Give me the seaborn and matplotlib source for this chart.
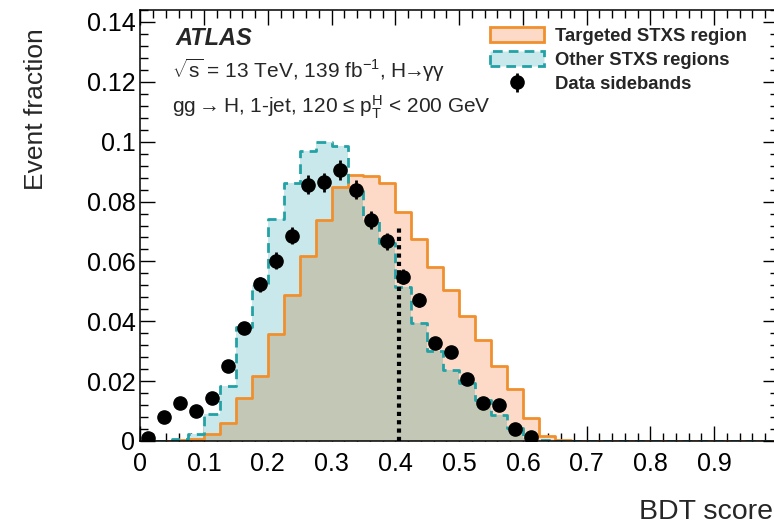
import numpy as np
import pandas as pd
import matplotlib
matplotlib.use("Agg")
import matplotlib.pyplot as plt
import seaborn as sns
from matplotlib.patches import Patch
from matplotlib.ticker import MultipleLocator, FuncFormatter

# BDT score histograms: 40 bins from 0 to 1
bin_width = 0.025
bin_centers = np.arange(40) * bin_width + bin_width / 2

# event fractions
targeted = [0.0, 0.0001, 0.0003, 0.0007, 0.0025, 0.0059, 0.0144, 0.0216, 0.0358, 0.0488,
            0.0617, 0.0739, 0.0848, 0.0890, 0.0884, 0.0862, 0.0764, 0.0675, 0.0583, 0.0504,
            0.0416, 0.0338, 0.0249, 0.0173, 0.0076, 0.0017, 0.0002, 0.0, 0.0, 0.0,
            0.0, 0.0, 0.0, 0.0, 0.0, 0.0, 0.0, 0.0, 0.0, 0.0]
other = [0.0, 0.0001, 0.0006, 0.0025, 0.0089, 0.0184, 0.0380, 0.0522, 0.0741, 0.0862,
         0.0968, 0.0998, 0.0984, 0.0850, 0.0740, 0.0660, 0.0516, 0.0394, 0.0302, 0.0237,
         0.0193, 0.0137, 0.0087, 0.0043, 0.0010, 0.0002, 0.0, 0.0, 0.0, 0.0,
         0.0, 0.0, 0.0, 0.0, 0.0, 0.0, 0.0, 0.0, 0.0, 0.0]

# data sidebands (first 25 bins)
data_vals = [0.0009, 0.0079, 0.0128, 0.0101, 0.0143, 0.0249, 0.0377, 0.0523, 0.0603, 0.0686,
             0.0856, 0.0864, 0.0906, 0.0839, 0.0737, 0.0667, 0.0549, 0.0472, 0.0327, 0.0297,
             0.0206, 0.0126, 0.0120, 0.0039, 0.0012]
data_err = [0.0003, 0.0010, 0.0012, 0.0011, 0.0013, 0.0017, 0.0021, 0.0025, 0.0027, 0.0029,
            0.0032, 0.0032, 0.0033, 0.0032, 0.0030, 0.0028, 0.0026, 0.0024, 0.0020, 0.0019,
            0.0016, 0.0012, 0.0012, 0.0007, 0.0004]
data_x = bin_centers[:len(data_vals)]

cut_value = 0.405
cut_height = 0.072

hist_df = pd.DataFrame({'score': bin_centers, 'targeted': targeted, 'other': other})
# region where the two transparent fills overlap (drawn with the blended colour)
hist_df['overlap'] = np.minimum(hist_df['targeted'], hist_df['other'])

sns.set_style("ticks")
plt.rcParams['font.family'] = ['Liberation Sans', 'DejaVu Sans']
plt.rcParams['mathtext.fontset'] = 'custom'
plt.rcParams['mathtext.rm'] = 'Liberation Sans'
plt.rcParams['mathtext.it'] = 'Liberation Sans:italic'
plt.rcParams['mathtext.bf'] = 'Liberation Sans:bold'

orange = '#f08f2e'
orange_fill = '#fcdac7'
teal = '#23a2a6'
teal_fill = '#c8e8eb'
mixed_fill = '#c3c8b6'
dash = (0, (3.5, 2.2))

fig = plt.figure(figsize=(7.74, 5.32), dpi=100)
ax = fig.add_axes([140.3 / 774, 91 / 532, 637.7 / 774, 431 / 532])

hist_kws = dict(data=hist_df, x='score', binwidth=bin_width, binrange=(0, 1),
                element='step', ax=ax)
# filled areas
sns.histplot(weights='other', fill=True, color=teal_fill, alpha=1, linewidth=0, **hist_kws)
sns.histplot(weights='targeted', fill=True, color=orange_fill, alpha=1, linewidth=0, **hist_kws)
sns.histplot(weights='overlap', fill=True, color=mixed_fill, alpha=1, linewidth=0, **hist_kws)
# outlines
sns.histplot(weights='targeted', fill=False, color=orange, linewidth=2, **hist_kws)
sns.histplot(weights='other', fill=False, color=teal, linewidth=2, linestyle=dash, **hist_kws)

ax.vlines(cut_value, 0, cut_height, colors='black', linestyles=(0, (1, 1)), lw=3, zorder=4)

data_handle = ax.errorbar(data_x, data_vals, yerr=data_err, fmt='o', color='black',
                          ms=9.5, elinewidth=2, capsize=0, zorder=5)

ax.set_xlim(0, 1)
ax.set_ylim(0, 0.144)
ax.xaxis.set_major_locator(MultipleLocator(0.1))
ax.xaxis.set_minor_locator(MultipleLocator(0.02))
ax.yaxis.set_major_locator(MultipleLocator(0.02))
ax.yaxis.set_minor_locator(MultipleLocator(0.004))
ax.xaxis.set_major_formatter(FuncFormatter(lambda v, p: '' if v > 0.95 else f'{v:g}'))
ax.yaxis.set_major_formatter(FuncFormatter(lambda v, p: f'{v:g}'))
ax.tick_params(which='both', direction='in', top=True, right=True, width=1, colors='black')
ax.tick_params(which='major', length=10.5, labelsize=18)
ax.tick_params(axis='x', which='major', pad=8)
ax.tick_params(axis='y', which='major', pad=3.5)
ax.tick_params(which='minor', length=5.5)
for s in ax.spines.values():
    s.set_linewidth(1.1)
    s.set_color('black')

ax.set_xlabel('BDT score', fontsize=20.5, loc='right')
ax.xaxis.set_label_coords(0.992, -0.135)
ax.set_ylabel('Event fraction', fontsize=19, loc='top')
ax.yaxis.set_label_coords(-0.145, 0.958)

fig.text(175 / 774, (532 - 45) / 532, 'ATLAS', fontsize=17, fontweight='bold',
         fontstyle='italic', va='baseline')
fig.text(172 / 774, (532 - 78) / 532,
         r'$\sqrt{\mathrm{s}}$ = 13 TeV, 139 fb$^{-1}$, H$\!\!\rightarrow\!\!$γγ',
         fontsize=15, va='baseline')
fig.text(172 / 774, (532 - 113) / 532,
         r'gg$\rightarrow$H, 1-jet, 120 ≤ $\mathrm{p}_{\mathrm{T}}^{\mathrm{H}}$ < 200 GeV',
         fontsize=15, va='baseline')

handles = [Patch(facecolor=orange_fill, edgecolor=orange, linewidth=2),
           Patch(facecolor=teal_fill, edgecolor=teal, linewidth=2, linestyle=dash),
           data_handle]
labels = ['Targeted STXS region', 'Other STXS regions', 'Data sidebands']
ax.legend(handles, labels, loc='upper left', bbox_to_anchor=(490 / 774, (532 - 27) / 532),
          bbox_transform=fig.transFigure, frameon=False, borderpad=0, borderaxespad=0,
          prop={'weight': 'bold', 'size': 13.3}, handlelength=2.9, handleheight=0.9,
          handletextpad=0.6, labelspacing=0.33)

fig.savefig('out.png', dpi=100)
